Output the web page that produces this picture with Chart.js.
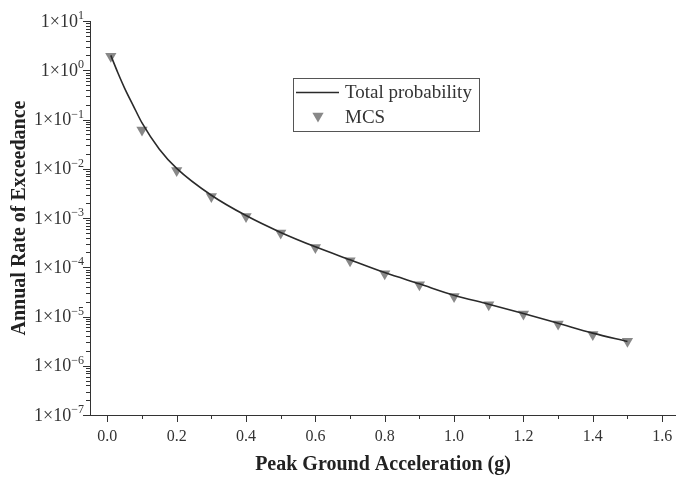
<!DOCTYPE html>
<html lang="en">
<head>
  <meta charset="UTF-8">
  <title>Annual Rate of Exceedance</title>
  <style>
    html, body { margin: 0; padding: 0; background: #fff; }
    #wrap { width: 676px; height: 477px; position: relative; }
  </style>
</head>
<body>
  <div id="wrap"><canvas id="chart"></canvas></div>

  <script src="https://cdn.jsdelivr.net/npm/chart.js@4"></script>
  <script>
    // Total probability curve
    var curvePga  = [0.01, 0.03, 0.05, 0.075, 0.1, 0.15, 0.2, 0.3, 0.4, 0.5, 0.6, 0.7, 0.8, 0.9, 1.0, 1.1, 1.2, 1.3, 1.4, 1.5];
    var curveRate = [2.0, 0.9, 0.43, 0.19, 0.085, 0.025, 0.0102, 0.0029, 0.00112, 0.00051, 0.00026, 0.000142,
                     7.8e-5, 4.6e-5, 2.7e-5, 1.78e-5, 1.15e-5, 7.3e-6, 4.6e-6, 3.1e-6];

    // MCS points
    var mcsPga  = [0.01, 0.1, 0.2, 0.3, 0.4, 0.5, 0.6, 0.7, 0.8, 0.9, 1.0, 1.1, 1.2, 1.3, 1.4, 1.5];
    var mcsRate = [1.92, 0.0615, 0.0092, 0.00273, 0.00107, 0.000494, 0.000252, 0.000136,
                   7.4e-5, 4.4e-5, 2.56e-5, 1.73e-5, 1.12e-5, 7.05e-6, 4.3e-6, 3.13e-6];

    // decade labels of the y axis (1x10^e)
    var yExponents = [1, 0, -1, -2, -3, -4, -5, -6, -7];
    var seriesNames = ["Total probability", "MCS"];

    var FONT = "'Liberation Serif', 'Times New Roman', serif";
    var AXIS_COLOR = "#333";
    var TEXT_COLOR = "#333";

    function toPoints(xs, ys) {
      var out = [];
      for (var i = 0; i < xs.length; i++) {
        out.push({ x: xs[i], y: ys[i] });
      }
      return out;
    }

    function downTriangle(ctx, x, y, r) {
      ctx.beginPath();
      ctx.moveTo(x, y + r);
      ctx.lineTo(x - r * Math.sqrt(3) / 2, y - r / 2);
      ctx.lineTo(x + r * Math.sqrt(3) / 2, y - r / 2);
      ctx.closePath();
      ctx.fill();
    }

    /* Tick marks, y labels with exponents, y title and legend box */
    var decor = {
      id: "decor",
      afterDraw: function(chart) {
        var ctx = chart.ctx;
        var xs = chart.scales.x;
        var ys = chart.scales.y;
        var area = chart.chartArea;

        ctx.save();
        ctx.strokeStyle = AXIS_COLOR;
        ctx.lineWidth = 1;
        ctx.beginPath();

        // y ticks, major and minor, outward
        for (var e = -7; e <= 1; e++) {
          var py = Math.round(ys.getPixelForValue(Math.pow(10, e))) + 0.5;
          ctx.moveTo(area.left, py);
          ctx.lineTo(area.left - 7, py);
          if (e < 1) {
            for (var k = 2; k <= 9; k++) {
              var my = Math.round(ys.getPixelForValue(k * Math.pow(10, e))) + 0.5;
              ctx.moveTo(area.left, my);
              ctx.lineTo(area.left - 4, my);
            }
          }
        }

        // x ticks, major every 0.2 and minor between
        for (var i = 0; i <= 16; i++) {
          var px = Math.round(xs.getPixelForValue(i / 10)) + 0.5;
          ctx.moveTo(px, area.bottom);
          ctx.lineTo(px, area.bottom + (i % 2 === 0 ? 7 : 4));
        }
        ctx.stroke();

        // y labels 1x10^e
        ctx.fillStyle = TEXT_COLOR;
        ctx.textBaseline = "middle";
        ctx.textAlign = "left";
        var labelRight = area.left - 6;
        yExponents.forEach(function(e) {
          var y = ys.getPixelForValue(Math.pow(10, e));
          var expText = e < 0 ? "\u2212" + (-e) : String(e);
          ctx.font = "12px " + FONT;
          var expW = ctx.measureText(expText).width;
          ctx.font = "18px " + FONT;
          var mainText = "1\u00d710";
          var mainW = ctx.measureText(mainText).width;
          var x0 = labelRight - expW - mainW;
          ctx.fillText(mainText, x0, y + 1);
          ctx.font = "12px " + FONT;
          ctx.fillText(expText, x0 + mainW, y - 5);
        });

        // y title
        ctx.save();
        ctx.translate(20, (area.top + area.bottom) / 2);
        ctx.rotate(-Math.PI / 2);
        ctx.textAlign = "center";
        ctx.fillStyle = "#222";
        ctx.font = "bold 20px " + FONT;
        ctx.fillText("Annual Rate of Exceedance", 0, 0);
        ctx.restore();

        // legend
        ctx.strokeStyle = "#555";
        ctx.strokeRect(293.5, 78.5, 186, 53);
        ctx.strokeStyle = "#2a2a2a";
        ctx.lineWidth = 1.4;
        ctx.beginPath();
        ctx.moveTo(296, 92.5);
        ctx.lineTo(339, 92.5);
        ctx.stroke();
        ctx.fillStyle = "#888";
        downTriangle(ctx, 318, 116, 6.5);
        ctx.fillStyle = TEXT_COLOR;
        ctx.font = "19px " + FONT;
        ctx.textAlign = "left";
        ctx.fillText(seriesNames[0], 345, 93);
        ctx.fillText(seriesNames[1], 345, 118);

        ctx.restore();
      }
    };

    new Chart(document.getElementById("chart"), {
      type: "scatter",
      data: {
        datasets: [{
          type: "line",
          label: seriesNames[0],
          data: toPoints(curvePga, curveRate),
          borderColor: "#2a2a2a",
          borderWidth: 1.6,
          pointRadius: 0,
          cubicInterpolationMode: "monotone",
          fill: false
        }, {
          label: seriesNames[1],
          data: toPoints(mcsPga, mcsRate),
          pointStyle: "triangle",
          rotation: 180,
          pointRadius: 6.5,
          backgroundColor: "#888",
          borderColor: "#888",
          borderWidth: 0
        }]
      },
      options: {
        responsive: true,
        maintainAspectRatio: false,
        animation: false,
        layout: { autoPadding: false, padding: { left: 0, top: 21, right: 0, bottom: 0 } },
        plugins: {
          legend: { display: false },
          tooltip: { enabled: false }
        },
        scales: {
          x: {
            type: "linear",
            min: -0.05,
            max: 1.64,
            grid: { display: false, drawTicks: false },
            border: { display: true, color: AXIS_COLOR, width: 1 },
            ticks: {
              stepSize: 0.2,
              includeBounds: false,
              autoSkip: false,
              maxRotation: 0,
              padding: 12,
              color: TEXT_COLOR,
              font: { family: FONT, size: 16 },
              callback: function(v) { return Number(v).toFixed(1); }
            },
            title: {
              display: true,
              text: "Peak Ground Acceleration (g)",
              color: "#222",
              font: { family: FONT, size: 20, weight: "bold" },
              padding: { top: 0, bottom: 0 }
            },
            afterFit: function(s) {
              s.height = 62;
              s.paddingLeft = 0;
              s.paddingRight = 0;
            }
          },
          y: {
            type: "logarithmic",
            min: 1e-7,
            max: 10,
            grid: { display: false, drawTicks: false },
            border: { display: true, color: AXIS_COLOR, width: 1 },
            ticks: { display: false },
            afterFit: function(s) {
              s.width = 90;
              s.paddingTop = 0;
              s.paddingBottom = 0;
            }
          }
        }
      },
      plugins: [decor]
    });
  </script>
</body>
</html>
